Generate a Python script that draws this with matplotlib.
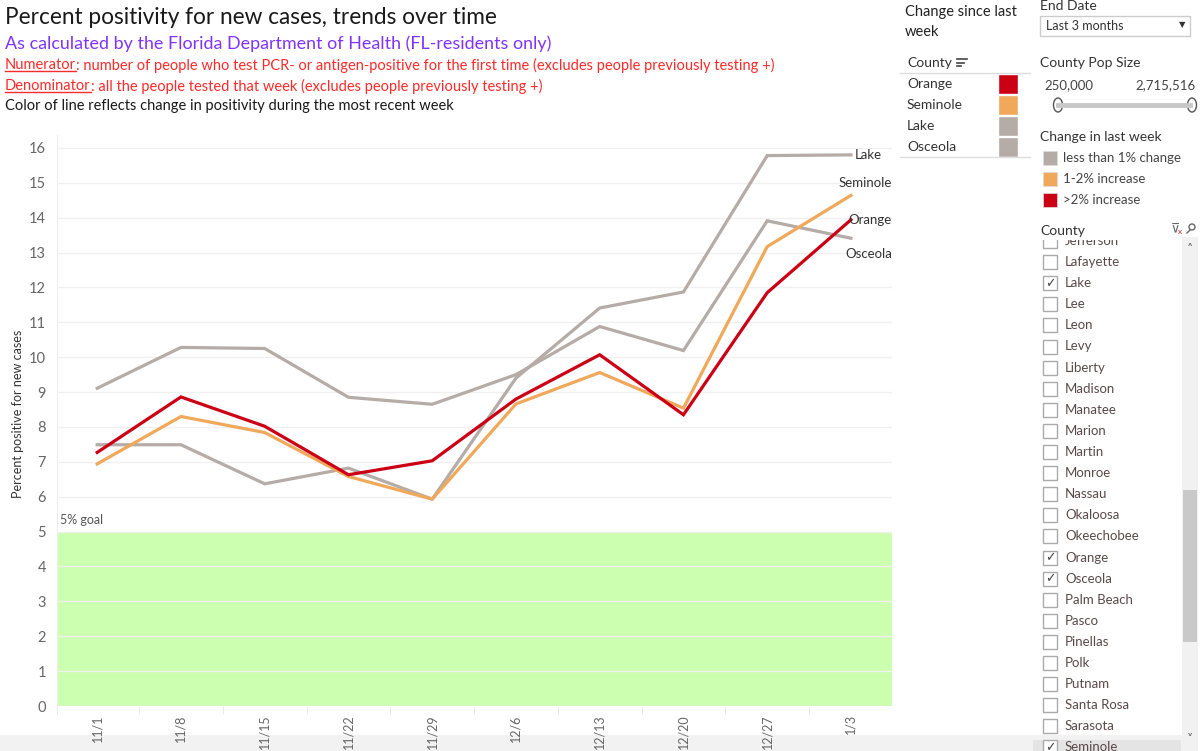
import matplotlib
matplotlib.use("Agg")
import matplotlib.pyplot as plt
from matplotlib.patches import Rectangle, Ellipse
from matplotlib.lines import Line2D

plt.rcParams['font.family'] = ['Lato', 'DejaVu Sans']

W, H = 1200, 751

# --- data ---
weeks = ["11/1", "11/8", "11/15", "11/22", "11/29", "12/6", "12/13", "12/20", "12/27", "1/3"]
orange = [7.27, 8.86, 8.02, 6.63, 7.03, 8.80, 10.07, 8.35, 11.85, 13.94]
seminole = [6.94, 8.30, 7.84, 6.58, 5.93, 8.66, 9.56, 8.54, 13.17, 14.64]
lake = [7.49, 7.49, 6.37, 6.82, 5.93, 9.40, 11.41, 11.87, 15.78, 15.80]
osceola = [9.11, 10.28, 10.25, 8.85, 8.65, 9.50, 10.88, 10.19, 13.91, 13.41]
goal = 5

counties = ["Orange", "Seminole", "Lake", "Osceola"]
change_cat = [">2% increase", "1-2% increase", "less than 1% change", "less than 1% change"]
legend_cats = ["less than 1% change", "1-2% increase", ">2% increase"]
cat_colors = {"less than 1% change": "#b5aba7", "1-2% increase": "#f0a95a", ">2% increase": "#cc0014"}

county_list = ["Jefferson", "Lafayette", "Lake", "Lee", "Leon", "Levy", "Liberty", "Madison",
               "Manatee", "Marion", "Martin", "Monroe", "Nassau", "Okaloosa", "Okeechobee",
               "Orange", "Osceola", "Palm Beach", "Pasco", "Pinellas", "Polk", "Putnam",
               "Santa Rosa", "Sarasota", "Seminole"]
checked = ["Lake", "Orange", "Osceola", "Seminole"]
pop_range = ["250,000", "2,715,516"]


def fx(x):
    return x / W


def fy(y):
    return 1 - y / H


def rect(fig, x0, y0, x1, y1, **kw):
    r = Rectangle((fx(x0), fy(y1)), (x1 - x0) / W, (y1 - y0) / H,
                  transform=fig.transFigure, **kw)
    fig.add_artist(r)
    return r


def hline(fig, x0, x1, y, **kw):
    fig.add_artist(Line2D([fx(x0), fx(x1)], [fy(y), fy(y)], transform=fig.transFigure, **kw))


def txt(fig, x, y, s, **kw):
    kw.setdefault("va", "center")
    return fig.text(fx(x), fy(y), s, **kw)


fig = plt.figure(figsize=(W / 100, H / 100), dpi=100)
renderer = fig.canvas.get_renderer()

# bottom grey strip (behind everything)
rect(fig, 0, 735, 1182, H, facecolor="#f2f2f2", edgecolor="none", zorder=-2)

# --- main chart ---
ax = fig.add_axes([fx(57), fy(706), (892 - 57) / W, (706 - 135) / H])
ax.patch.set_alpha(0)
x = list(range(len(weeks)))
ax.axhspan(0, goal, color="#ccffaf", zorder=0.5, lw=0)
series = [("Lake", lake), ("Osceola", osceola), ("Seminole", seminole), ("Orange", orange)]
for name, vals in series:
    col = cat_colors[change_cat[counties.index(name)]]
    ax.plot(x, vals, color=col, lw=2.3, zorder=3, solid_joinstyle="miter")

ax.set_xlim(-0.48, 9.49)
ax.set_ylim(0, 16.37)
ax.set_yticks(range(0, 17))
ax.set_xticks(x)
ax.set_xticklabels(weeks, rotation=90, fontsize=9, color="#666666")
ax.set_xticks([i + 0.5 for i in x[:-1]] + [-0.48], minor=True)
ax.tick_params(axis="x", which="major", length=0, pad=6)
ax.tick_params(axis="x", which="minor", length=6, color="#e6e6e6")
ax.tick_params(axis="y", length=0, pad=8, labelsize=10.5, labelcolor="#666666")
ax.grid(axis="y", color="#f0f0f0", lw=1, zorder=1)
for s in ["top", "right", "bottom"]:
    ax.spines[s].set_visible(False)
ax.spines["left"].set_color("#eeeeee")
ax.set_axisbelow(False)

ax.text(0.003, goal + 0.15, "5% goal", transform=ax.get_yaxis_transform(), fontsize=9,
        color="#555555", va="bottom")

# end-of-line labels
ax.annotate("Lake", (9, lake[-1]), xytext=(4, 0), textcoords="offset pixels",
            fontsize=9.5, color="#333333", va="center", ha="left")
ax.annotate("Seminole", (9, seminole[-1]), xytext=(41, 12), textcoords="offset pixels",
            fontsize=9.5, color="#333333", va="center", ha="right")
ax.annotate("Orange", (9, orange[-1]), xytext=(41, 0), textcoords="offset pixels",
            fontsize=9.5, color="#333333", va="center", ha="right")
ax.annotate("Osceola", (9, osceola[-1]), xytext=(41, -16), textcoords="offset pixels",
            fontsize=9.5, color="#333333", va="center", ha="right")

fig.text(fx(18), fy(414), "Percent positive for new cases", rotation=90, fontsize=9,
         color="#333333", ha="center", va="center")

# --- titles ---
txt(fig, 5, 18, "Percent positivity for new cases, trends over time", fontsize=16.3, color="#1a1a1a")
txt(fig, 5, 44, "As calculated by the Florida Department of Health (FL-residents only)",
    fontsize=12.9, color="#8033ff")


def underlined_line(y, head, rest, color):
    t = txt(fig, 5, y, head, fontsize=10.5, color=color)
    bb = t.get_window_extent(renderer)
    fig.add_artist(Line2D([bb.x0 / W, bb.x1 / W], [(bb.y0 + 1) / H, (bb.y0 + 1) / H],
                          transform=fig.transFigure, color=color, lw=1))
    fig.text(bb.x1 / W, fy(y), rest, fontsize=10.5, color=color, va="center")


underlined_line(65, "Numerator",
                ": number of people who test PCR- or antigen-positive for the first time "
                "(excludes people previously testing +)", "#ff2a2a")
underlined_line(86, "Denominator", ": all the people tested that week (excludes people previously testing +)",
                "#ff2a2a")
txt(fig, 5, 106, "Color of line reflects change in positivity during the most recent week",
    fontsize=10.5, color="#1a1a1a")

# --- "Change since last week" table ---
txt(fig, 905, 12, "Change since last", fontsize=10.5, color="#222222")
txt(fig, 905, 32, "week", fontsize=10.5, color="#222222")
txt(fig, 907, 63, "County", fontsize=10, color="#333333")
for i, wl in enumerate([10, 7, 4]):
    hline(fig, 957, 957 + wl, 59 + i * 3.5, color="#444444", lw=1.2)
hline(fig, 900, 1030, 73, color="#dddddd", lw=1)
for i, c in enumerate(counties):
    yc = 84 + i * 21
    txt(fig, 907, yc, c, fontsize=10, color="#333333")
    rect(fig, 998, yc - 10, 1018, yc + 10, facecolor=cat_colors[change_cat[i]], edgecolor="white", lw=1)
hline(fig, 900, 1030, 157, color="#dddddd", lw=1)

# --- End date dropdown ---
txt(fig, 1040, 6, "End Date", fontsize=10, color="#333333")
rect(fig, 1040, 16, 1190, 36, facecolor="white", edgecolor="#cccccc", lw=1)
txt(fig, 1046, 26, "Last 3 months", fontsize=9, color="#333333")
txt(fig, 1182, 25, "\u25bc", fontsize=6, color="#333333", ha="center", family="DejaVu Sans")

# --- pop size slider ---
txt(fig, 1040, 63, "County Pop Size", fontsize=10, color="#333333")
txt(fig, 1044, 85, pop_range[0], fontsize=9.5, color="#444444")
txt(fig, 1196, 85, pop_range[1], fontsize=9.5, color="#444444", ha="right")
hline(fig, 1058, 1190, 105, color="#c8c8c8", lw=3.5)
for xh in (1058, 1192):
    fig.add_artist(Ellipse((fx(xh), fy(105)), 9 / W, 14 / H, transform=fig.transFigure,
                           facecolor="white", edgecolor="#555555", lw=1))

# --- colour legend ---
txt(fig, 1040, 137, "Change in last week", fontsize=10, color="#333333")
for i, c in enumerate(legend_cats):
    yc = 158 + i * 21
    rect(fig, 1043, yc - 7, 1057, yc + 7, facecolor=cat_colors[c], edgecolor="#dddddd", lw=0.5)
    txt(fig, 1063, yc, c, fontsize=9.5, color="#444444")

# --- county filter list ---
for i, c in enumerate(county_list):
    yc = 241 + i * 21.1
    if c == county_list[-1]:
        rect(fig, 1033, yc - 7, 1181, H, facecolor="#e4e4e4", edgecolor="none")
    rect(fig, 1043, yc - 7, 1057, yc + 7, facecolor="white", edgecolor="#aaaaaa", lw=1)
    if c in checked:
        txt(fig, 1050, yc, "\u2713", fontsize=9, color="#444444", ha="center", family="DejaVu Sans")
    txt(fig, 1065, yc, c, fontsize=9.5, color="#5a4a4a")
# cover clipped rows at top of list
rect(fig, 1032, 222, 1182, 240, facecolor="white", edgecolor="none", zorder=5)
txt(fig, 1040, 231, "County", fontsize=10, color="#333333", zorder=6)
txt(fig, 1175, 229, "\u22bd", fontsize=9, color="#666666", ha="center", family="DejaVu Sans", zorder=6)
txt(fig, 1180, 232, "x", fontsize=6, color="#dd2222", ha="center", zorder=6)
fig.add_artist(Ellipse((fx(1192), fy(227)), 6 / W, 6 / H, transform=fig.transFigure,
                       facecolor="none", edgecolor="#666666", lw=1, zorder=6))
fig.add_artist(Line2D([fx(1187), fx(1190)], [fy(233), fy(230)], transform=fig.transFigure,
                      color="#666666", lw=1, zorder=6))

# scrollbar
rect(fig, 1182, 237, 1198, H, facecolor="#f1f1f1", edgecolor="none")
rect(fig, 1183, 490, 1197, 642, facecolor="#c9c9c9", edgecolor="none")
txt(fig, 1190, 250, "\u02c4", fontsize=9, color="#555555", ha="center", family="DejaVu Sans")
txt(fig, 1190, 740, "\u02c5", fontsize=9, color="#555555", ha="center", family="DejaVu Sans")

fig.savefig("out.png", dpi=100)
